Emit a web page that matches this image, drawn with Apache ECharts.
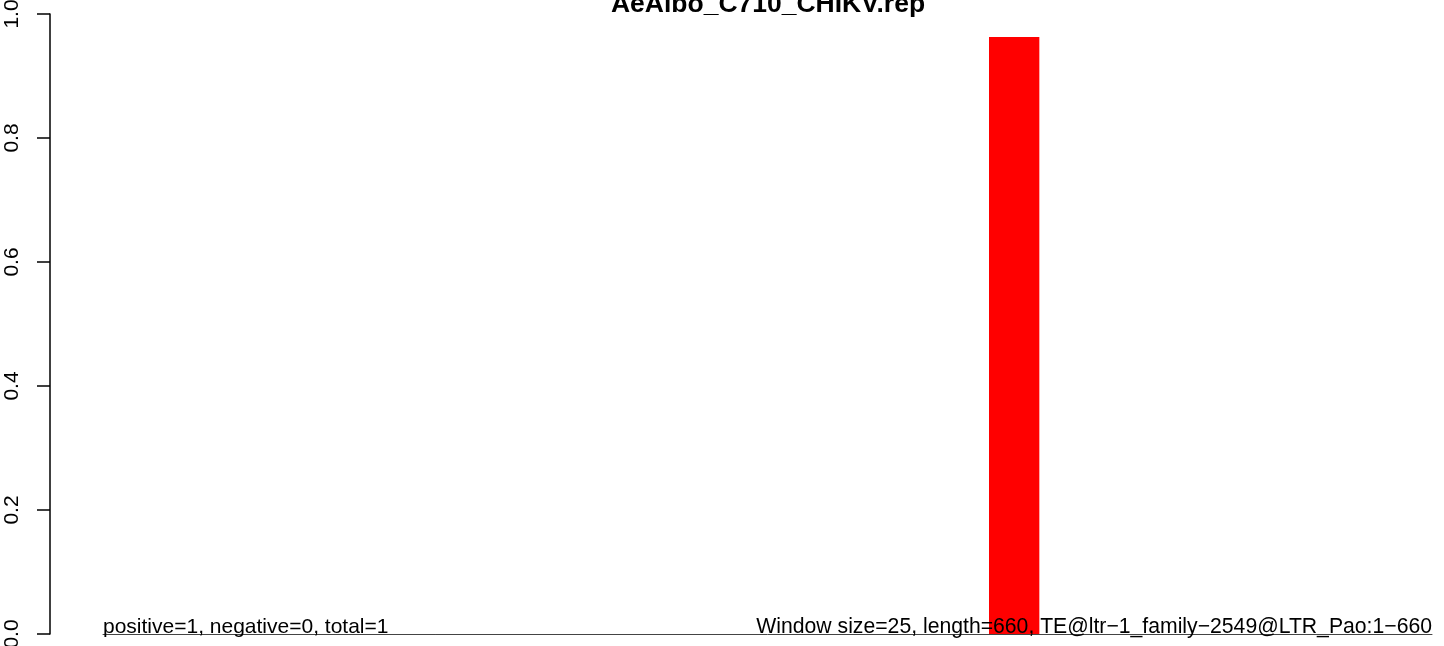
<!DOCTYPE html>
<html>
<head>
<meta charset="utf-8">
<script src="https://cdn.jsdelivr.net/npm/echarts@6/dist/echarts.min.js"></script>
<style>html,body{margin:0;padding:0;background:#fff}#c{width:1444px;height:646px}</style>
</head>
<body>
<div id="c"></div>
<script>
const chartTitle = 'AeAlbo_C710_CHIKV.rep';
const seqLength = 660;
const windowSize = 25;
const windowStarts = [440];
const windowValues = [0.963];
const yTickLabels = ['0.0', '0.2', '0.4', '0.6', '0.8', '1.0'];
const leftNote = 'positive=1, negative=0, total=1';
const rightNote = 'Window size=25, length=660, TE@ltr\u22121_family\u22122549@LTR_Pao:1\u2212660';

const barData = windowStarts.map((s, i) => [s, s + windowSize, windowValues[i]]);
const FONT = '"Liberation Sans", Arial, sans-serif';

const chart = echarts.init(document.getElementById('c'), null, {renderer: 'canvas'});
chart.setOption({
  animation: false,
  backgroundColor: '#ffffff',
  title: {
    text: chartTitle,
    left: 768,
    textAlign: 'center',
    top: -9,
    padding: 0,
    textStyle: {fontFamily: FONT, fontWeight: 'bold', fontSize: 26.5, color: '#000'}
  },
  grid: {left: 103, right: 12, top: 14, bottom: 12, containLabel: false, outerBoundsMode: 'none'},
  xAxis: {
    type: 'value', min: 0, max: seqLength,
    axisLine: {show: true, onZero: false, lineStyle: {color: '#444', width: 1}},
    axisTick: {show: false}, axisLabel: {show: false}, splitLine: {show: false}
  },
  yAxis: {
    type: 'value', min: 0, max: 1, interval: 0.2, offset: 53,
    axisLine: {show: true, onZero: false, lineStyle: {color: '#000', width: 1.5}},
    axisTick: {show: true, length: 13, lineStyle: {color: '#000', width: 1.5}},
    splitLine: {show: false},
    axisLabel: {
      rotate: 90, margin: 27, fontFamily: FONT, fontSize: 21, color: '#000',
      formatter: (v) => yTickLabels[Math.round(v * 5)]
    }
  },
  series: [{
    type: 'custom',
    data: barData,
    encode: {x: [0, 1], y: 2},
    renderItem: function (params, api) {
      const p0 = api.coord([api.value(0), 0]);
      const p1 = api.coord([api.value(1), api.value(2)]);
      return {
        type: 'rect',
        shape: {x: p0[0], y: p1[1], width: p1[0] - p0[0], height: p0[1] - p1[1]},
        style: {fill: '#ff0000'}
      };
    },
    z: 2
  }],
  graphic: [
    {type: 'text', left: 103, top: 617, z: 100,
     style: {text: leftNote, font: '21px ' + FONT, fill: '#000'}},
    {type: 'text', right: 12, top: 617, z: 100,
     style: {text: rightNote, font: '21.2px ' + FONT, fill: '#000'}}
  ]
});
</script>
</body>
</html>
